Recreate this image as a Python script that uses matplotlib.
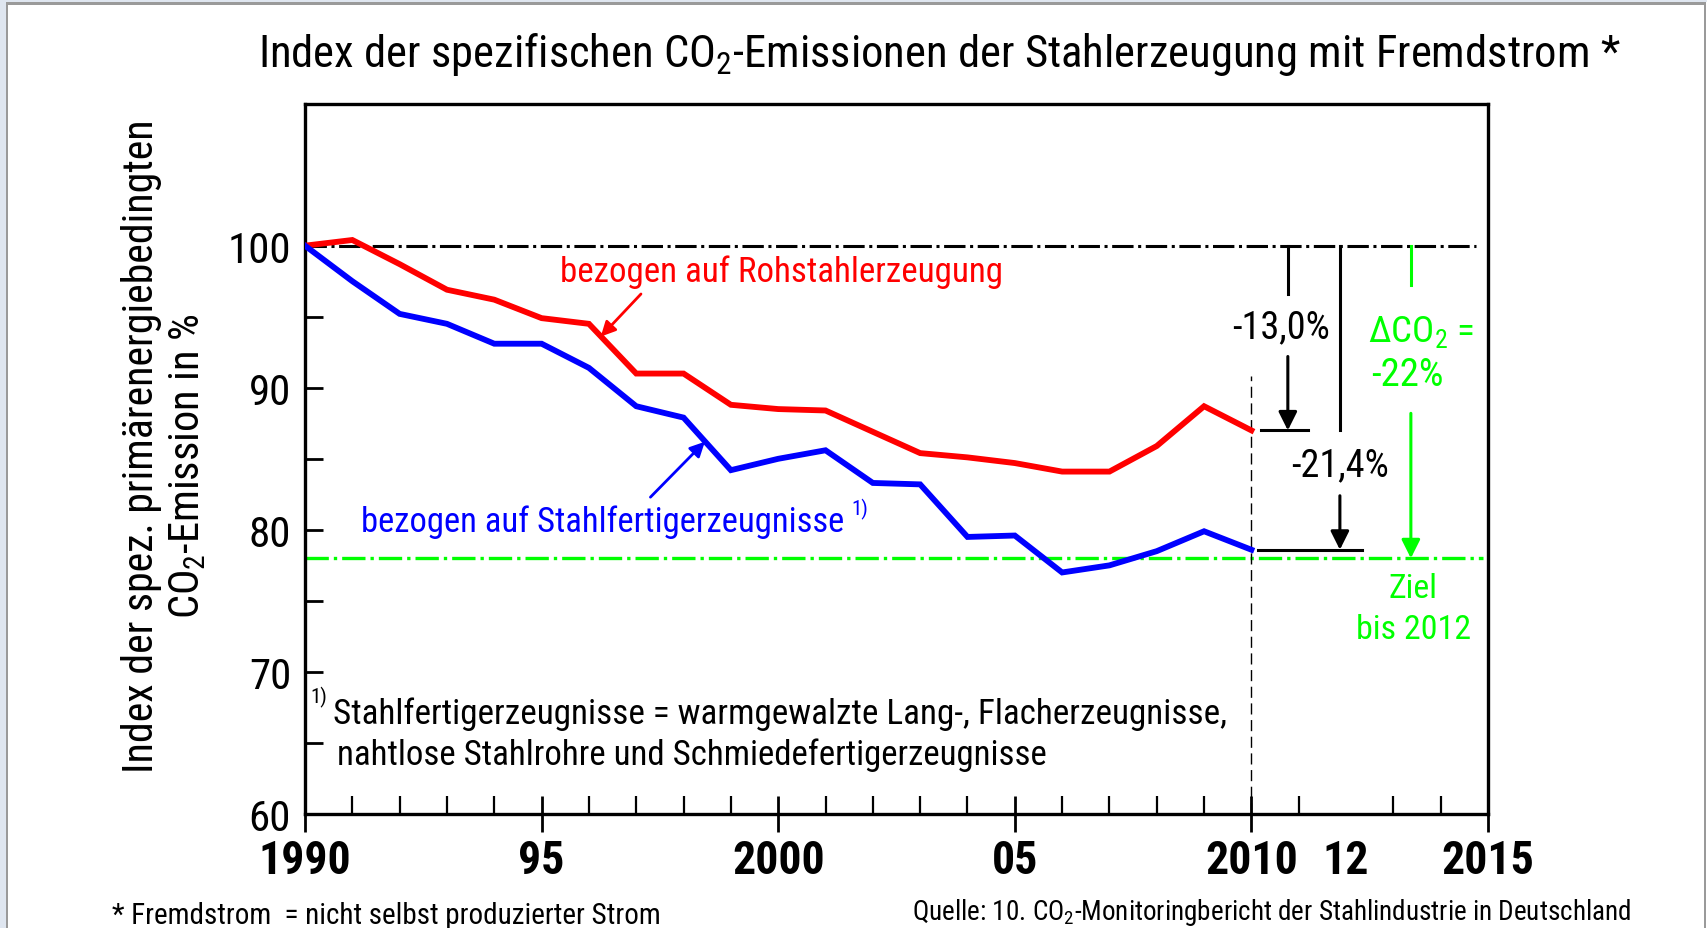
import matplotlib
matplotlib.use("Agg")
import matplotlib.pyplot as plt
from matplotlib import font_manager
from matplotlib.patches import Rectangle

# ---------------- data ----------------
years = list(range(1990, 2011))
rohstahl = [100.0, 100.4, 98.7, 96.9, 96.2, 94.9, 94.5, 91.0, 91.0, 88.8, 88.5,
            88.4, 86.9, 85.4, 85.1, 84.7, 84.1, 84.1, 85.9, 88.7, 87.0]
fertig = [100.0, 97.5, 95.2, 94.5, 93.1, 93.1, 91.4, 88.7, 87.9, 84.2, 85.0,
          85.6, 83.3, 83.2, 79.5, 79.6, 77.0, 77.5, 78.5, 79.9, 78.6]
basis = 100.0
ziel = 78.0
x_ticks = [1990, 1995, 2000, 2005, 2010, 2012, 2015]
x_labels = ["1990", "95", "2000", "05", "2010", "12", "2015"]
y_ticks = [60, 70, 80, 90, 100]
y_labels = ["60", "70", "80", "90", "100"]
red_label = "bezogen auf Rohstahlerzeugung"
blue_label = "bezogen auf Stahlfertigerzeugnisse"
title = "Index der spezifischen CO$_2$-Emissionen der Stahlerzeugung mit Fremdstrom *"
ylab1 = "Index der spez. primärenergiebedingten"
ylab2 = "CO$_2$-Emission in %"
note1 = "Stahlfertigerzeugnisse = warmgewalzte Lang-, Flacherzeugnisse,"
note2 = "nahtlose Stahlrohre und Schmiedefertigerzeugnisse"
foot_left = "* Fremdstrom  = nicht selbst produzierter Strom"
foot_right = "Quelle: 10. CO$_2$-Monitoringbericht der Stahlindustrie in Deutschland"
ann13 = "-13,0%"
ann21 = "-21,4%"
ann_d1 = "ΔCO$_2$ ="
ann_d2 = "-22%"
ann_z1 = "Ziel"
ann_z2 = "bis 2012"

# ---------------- fonts ----------------
FONT = "Liberation Sans"
STRETCH = "normal"
fl = font_manager.fontManager.ttflist
names = {f.name for f in fl}
for cand in ["Liberation Sans Narrow", "Arial Narrow", "Roboto Condensed",
             "Open Sans Condensed", "Noto Sans Display"]:
    if cand in names:
        FONT = cand
        break
else:
    for f in fl:
        if f.name == "DejaVu Sans" and ("Condensed" in f.fname or f.stretch in ("condensed", 75, 87)):
            FONT = "DejaVu Sans"
            STRETCH = "condensed"
            break

plt.rcParams["font.family"] = [FONT, "DejaVu Sans"]
plt.rcParams["font.stretch"] = STRETCH
plt.rcParams["mathtext.fontset"] = "custom"
plt.rcParams["mathtext.rm"] = FONT
plt.rcParams["mathtext.it"] = FONT
plt.rcParams["mathtext.bf"] = FONT + ":bold"

W, H = 1708, 929
fig = plt.figure(figsize=(W / 100, H / 100), dpi=100)
fig.patch.set_facecolor("white")

# window frame
fig.add_artist(Rectangle((0, 0), 6 / W, 1, transform=fig.transFigure, color="#dfe6f0", lw=0))
fig.add_artist(Rectangle((0, 1 - 3 / H), 1, 3 / H, transform=fig.transFigure, color="#dfe6f0", lw=0))
fig.add_artist(Rectangle((6 / W, 0), 2 / W, 1 - 3 / H, transform=fig.transFigure, color="#9a9a9a", lw=0))
fig.add_artist(Rectangle((6 / W, 1 - 6 / H), 1 - 8 / W, 3 / H, transform=fig.transFigure, color="#9a9a9a", lw=0))
fig.add_artist(Rectangle((1704 / W, 0), 2 / W, 1 - 3 / H, transform=fig.transFigure, color="#9a9a9a", lw=0))


def px(x, y):
    return x / W, 1 - y / H


ax = fig.add_axes([305 / W, 1 - 815 / H, (1488 - 305) / W, (815 - 104.6) / H])
ax.set_xlim(1990, 2015)
ax.set_ylim(60, 110)
for s in ax.spines.values():
    s.set_linewidth(2.4)

ax.set_xticks(x_ticks)
ax.set_xticklabels(x_labels, fontsize=33, fontweight="bold")
ax.set_xticks(list(range(1990, 2016)), minor=True)
ax.set_yticks(y_ticks)
ax.set_yticklabels(y_labels, fontsize=31)
ax.set_yticks([65, 75, 85, 95], minor=True)
ax.tick_params(axis="x", which="major", direction="inout", length=26, width=2, pad=4)
ax.tick_params(axis="x", which="minor", direction="in", length=13, width=1.6)
ax.tick_params(axis="y", which="both", direction="in", length=13, width=2, pad=10)
ax.tick_params(top=False, right=False, which="both")
ax.xaxis.get_major_ticks()[5].tick1line.set_visible(False)

texts = []


def fit(t, target):
    texts.append((t, target))


# reference lines
ax.plot([1990, 2014.75], [basis, basis], color="black", lw=2.2, dashes=(7, 1.5, 1, 1.5), zorder=2)
ax.plot([1990, 2014.9], [ziel, ziel], color="#00ff00", lw=2.4, dashes=(7, 1.5, 1, 1.5), zorder=2)
ax.plot([2010, 2010], [60, 90.8], color="black", lw=1, dashes=(8, 4), zorder=2)

# data lines
ax.plot(years, rohstahl, color="#ff0000", lw=4.2, solid_joinstyle="miter", zorder=4)
ax.plot(years, fertig, color="#0000ff", lw=4.2, solid_joinstyle="miter", zorder=4)

# series labels + arrows
t = ax.text(2000.06, 98.2, red_label, color="#ff0000", fontsize=27, ha="center", va="center")
fit(t, 443)
ax.annotate("", xy=(1996.25, 93.6), xytext=(1997.1, 96.6),
            arrowprops=dict(arrowstyle="-|>", color="#ff0000", lw=2, mutation_scale=22,
                            shrinkA=0, shrinkB=0))
t = ax.text(1996.28, 80.6, blue_label, color="#0000ff", fontsize=27, ha="center", va="center")
fit(t, 482)
ax.text(2001.55, 81.5, "1)", color="#0000ff", fontsize=15, ha="left", va="center")
ax.annotate("", xy=(1998.45, 86.2), xytext=(1997.3, 82.3),
            arrowprops=dict(arrowstyle="-|>", color="#0000ff", lw=2, mutation_scale=22,
                            shrinkA=0, shrinkB=0))

# footnote inside axes
ax.text(1990.12, 68.3, "1)", color="black", fontsize=15, ha="left", va="center")
t = ax.text(1990.6, 67.1, note1, color="black", fontsize=27, ha="left", va="center")
fit(t, 892)
t = ax.text(1990.68, 64.2, note2, color="black", fontsize=27, ha="left", va="center")
fit(t, 708)

# -13,0 % annotation
ax.plot([2010.77, 2010.77], [basis, 96.6], color="black", lw=2.2)
ax.annotate("", xy=(2010.77, 87.0), xytext=(2010.77, 92.2),
            arrowprops=dict(arrowstyle="-|>", color="black", lw=2.2, mutation_scale=28,
                            shrinkA=0, shrinkB=0))
ax.plot([2010.2, 2011.2], [87.0, 87.0], color="black", lw=2.2)
t = ax.text(2010.62, 94.3, ann13, color="black", fontsize=27, ha="center", va="center")
fit(t, 98)

# -21,4 % annotation
ax.plot([2011.87, 2011.87], [basis, 87.0], color="black", lw=2.2)
ax.annotate("", xy=(2011.87, 78.6), xytext=(2011.87, 82.4),
            arrowprops=dict(arrowstyle="-|>", color="black", lw=2.2, mutation_scale=28,
                            shrinkA=0, shrinkB=0))
ax.plot([2010.15, 2012.33], [78.6, 78.6], color="black", lw=2.2)
t = ax.text(2011.88, 84.6, ann21, color="black", fontsize=27, ha="center", va="center")
fit(t, 98)

# green target annotation
G = "#00ff00"
ax.plot([2013.37, 2013.37], [basis, 97.2], color=G, lw=2.2)
ax.annotate("", xy=(2013.37, 78.0), xytext=(2013.37, 88.2),
            arrowprops=dict(arrowstyle="-|>", color=G, lw=2.2, mutation_scale=28,
                            shrinkA=0, shrinkB=0))
t = ax.text(2013.58, 94.0, ann_d1, color=G, fontsize=27, ha="center", va="center")
fit(t, 106)
t = ax.text(2013.3, 90.9, ann_d2, color=G, fontsize=27, ha="center", va="center")
fit(t, 73)
t = ax.text(2013.42, 75.9, ann_z1, color=G, fontsize=27, ha="center", va="center")
fit(t, 49)
t = ax.text(2013.42, 73.0, ann_z2, color=G, fontsize=27, ha="center", va="center")
fit(t, 115)

# title, y label, footers (figure coordinates)
t = fig.text(*px(939, 55), title, fontsize=36, ha="center", va="center")
fit(t, 1362)
t = fig.text(*px(142, 446), ylab1, fontsize=30, ha="center", va="center", rotation=90)
fit(t, 654)
t = fig.text(*px(188, 466), ylab2, fontsize=30, ha="center", va="center", rotation=90)
fit(t, 305)
t = fig.text(*px(112, 916), foot_left, fontsize=22, ha="left", va="center")
fit(t, 549)
t = fig.text(*px(912, 913), foot_right, fontsize=20, ha="left", va="center")
fit(t, 719)

fig.canvas.draw()
r = fig.canvas.get_renderer()
for t, target in texts:
    bb = t.get_window_extent(r)
    w = bb.height if t.get_rotation() == 90 else bb.width
    t.set_fontsize(t.get_fontsize() * target / w)

fig.savefig("out.png", dpi=100, facecolor="white")
